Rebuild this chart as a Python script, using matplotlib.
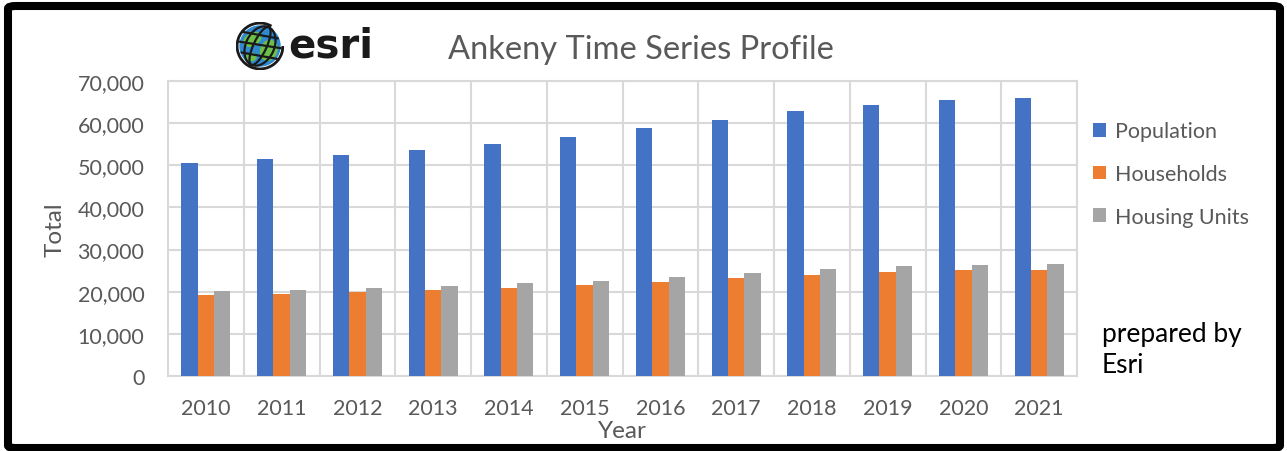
import numpy as np
import matplotlib
matplotlib.use('Agg')
import matplotlib.pyplot as plt
import matplotlib.patches as patches

years = ['2010', '2011', '2012', '2013', '2014', '2015',
         '2016', '2017', '2018', '2019', '2020', '2021']
population = [50480, 51430, 52460, 53720, 55070, 56740,
              58800, 60780, 62840, 64340, 65450, 66010]
households = [19180, 19410, 19890, 20360, 20920, 21550,
              22420, 23140, 23930, 24560, 25040, 25200]
housing_units = [20130, 20520, 20920, 21470, 22030, 22660,
                 23610, 24410, 25360, 25990, 26390, 26620]
series_names = ['Population', 'Households', 'Housing Units']
colors = ['#4472c4', '#ed7d31', '#a5a5a5']

plt.rcParams['font.family'] = ['Lato', 'DejaVu Sans']

W, H = 1287, 452
fig = plt.figure(figsize=(W / 100, H / 100), dpi=100)

# outer black frame (8 px line)
frame = patches.FancyBboxPatch((8 / W, 3 / H), 1272 / W, 442 / H,
                               boxstyle='round,pad=0,rounding_size=0.006',
                               transform=fig.transFigure, facecolor='none',
                               edgecolor='black', linewidth=5.8, zorder=10)
fig.patches.append(frame)

ax = fig.add_axes([168 / W, 1 - 377 / H, (1077 - 168) / W, (377 - 82) / H])
x = np.arange(len(years))
w = 0.215
for i, vals in enumerate([population, households, housing_units]):
    ax.bar(x + (i - 1) * w, vals, width=w, color=colors[i],
           label=series_names[i], zorder=3)

grid_c = '#d9d9d9'
ax.set_xlim(-0.5, len(years) - 0.5)
ax.set_ylim(0, 70000)
ax.set_yticks(range(0, 70001, 10000))
ax.set_yticklabels([f'{v:,}' for v in range(0, 70001, 10000)])
ax.set_xticks(x)
ax.set_xticklabels(years)
ax.set_xticks(x[:-1] + 0.5, minor=True)
ax.grid(axis='y', color=grid_c, linewidth=1.5, zorder=0)
ax.grid(axis='x', which='minor', color=grid_c, linewidth=1.5, zorder=0)
ax.grid(axis='x', which='major', visible=False)
for s in ax.spines.values():
    s.set_color(grid_c)
    s.set_linewidth(1.5)
ax.tick_params(axis='both', which='both', length=0, labelcolor='#595959',
               labelsize=15.5)
ax.tick_params(axis='y', pad=17)
ax.tick_params(axis='x', pad=16)

fig.text(55 / W, 1 - 230 / H, 'Total', rotation=90, ha='center', va='center',
         fontsize=17.5, color='#595959')
fig.text(622 / W, 1 - 432 / H, 'Year', ha='center', va='center',
         fontsize=17.5, color='#595959')
fig.text(641 / W, 1 - 50 / H, 'Ankeny Time Series Profile', ha='center',
         va='center', fontsize=23.5, color='#595959')

fig.legend(loc='center left', bbox_to_anchor=(1093 / W, 1 - 175 / H),
           frameon=False, fontsize=15.5, labelcolor='#595959',
           handlelength=0.6, handleheight=0.6, handletextpad=0.4,
           labelspacing=1.05, borderpad=0, borderaxespad=0)

fig.text(1102 / W, 1 - 350 / H, 'prepared by\nEsri', ha='left', va='center',
         fontsize=19, color='black', linespacing=1.32)

# esri logo: globe + wordmark
gx = fig.add_axes([236 / W, 1 - 71 / H, 48 / W, 48 / H])
gx.set_xlim(-1.1, 1.1)
gx.set_ylim(-1.1, 1.1)
gx.set_aspect('equal')
gx.axis('off')
gx.add_patch(patches.Circle((0, 0), 0.95, facecolor='#2f8ad0',
                            edgecolor='none'))
for cx, cy, ew, eh, ang in [(-0.35, 0.3, 0.9, 0.6, 30), (0.4, -0.2, 0.8, 1.0, -20),
                            (-0.4, -0.5, 0.5, 0.4, 0)]:
    gx.add_patch(patches.Ellipse((cx, cy), ew, eh, angle=ang,
                                 facecolor='#6cc04a', edgecolor='none'))
for ew in [0.6, 1.3]:
    gx.add_patch(patches.Ellipse((0, 0), ew, 1.9, angle=-25, fill=False,
                                 edgecolor='#1a1a1a', linewidth=1.6))
for yy in [-0.45, 0.05, 0.5]:
    xx = np.sqrt(np.clip(0.95 ** 2 - yy ** 2, 0, None))
    gx.plot([-xx, xx], [yy + 0.15, yy - 0.15], color='#1a1a1a', linewidth=1.6)
gx.add_patch(patches.Arc((0, 0), 2.1, 2.1, theta1=60, theta2=360,
                         edgecolor='#1a1a1a', linewidth=2))
fig.text(288 / W, 1 - 46 / H, 'esri', ha='left', va='center', fontsize=29,
         fontweight='bold', color='#1a1a1a', family='DejaVu Sans')

fig.savefig('out.png', dpi=100)
